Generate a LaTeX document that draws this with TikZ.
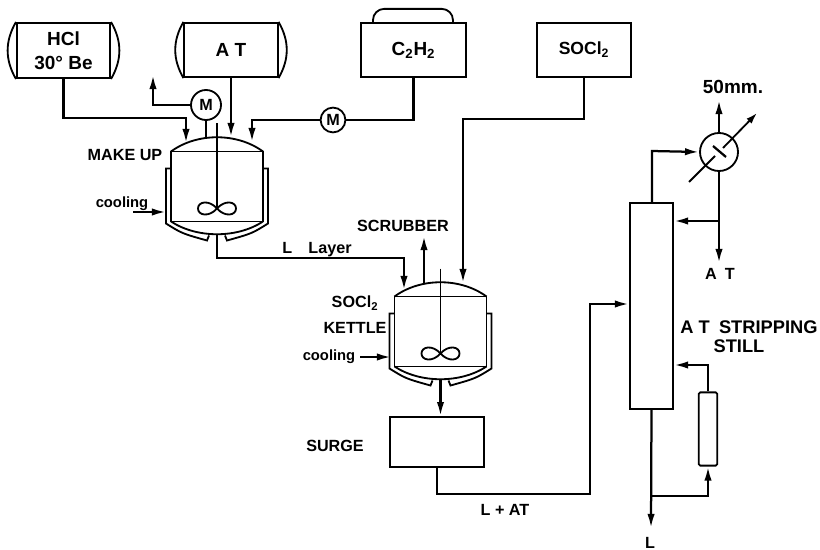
\documentclass[tikz,border=0pt]{standalone}
\usepackage{fontspec}
\setmainfont{Liberation Sans}
\usetikzlibrary{arrows.meta,positioning,calc}
\tikzset{
  pipe/.style={line width=1.6pt,-{Latex[length=10pt,width=5.2pt]}},
  plainpipe/.style={line width=1.6pt},
  unit/.style={draw,line width=1.3pt,inner sep=0pt,align=center},
  lab/.style={inner sep=0pt,align=center,font=\fontsize{11.5}{14}\selectfont\bfseries},
  biglab/.style={lab,font=\fontsize{13.5}{15}\selectfont\bfseries},
  cool/.style={lab,font=\fontsize{10.5}{14}\selectfont\bfseries},
  kettle/.pic={
    \node[draw,line width=1.3pt,minimum width=2.3cm,minimum height=1.75cm,inner sep=0pt] (-body) at (0,0) {};
    \coordinate (-out) at (0,48);
    \draw[line width=1.3pt] (-46,-35) .. controls (-20,-54) and (20,-54) .. (46,-35);
    \draw[line width=1.3pt] (-46,35) .. controls (-20,52) and (20,52) .. (46,35);
    \draw[line width=1.3pt] (-46,-18) -- (-51,-18) -- (-51,37) .. controls (-35,47) .. (-10,54) -- (-8,49);
    \draw[line width=1.3pt] (46,-18) -- (51,-18) -- (51,37) .. controls (35,47) .. (10,54) -- (8,49);
    \draw[line width=1.3pt] (0,-63) -- (0,22);
    \draw[line width=1.3pt] (0,22) .. controls (8,13) and (19,15) .. (19,22) .. controls (19,29) and (8,31) .. (0,22)
      .. controls (-8,13) and (-19,15) .. (-19,22) .. controls (-19,29) and (-8,31) .. (0,22);
  }
}
\begin{document}
\begin{tikzpicture}[x=.025cm,y=-.025cm]
\useasboundingbox (0,0) rectangle (820,550);
% storage tanks
\node[unit,biglab,minimum width=2.33cm,minimum height=1.38cm] (hcl) at (63.5,50.5) {HCl\\[2pt]30° Be};
\node[unit,biglab,minimum width=2.33cm,minimum height=1.36cm] (at) at (231,50) {A T};
\node[unit,biglab,minimum width=2.63cm,minimum height=1.36cm] (acet) at (413.5,50) {C\textsubscript{2}H\textsubscript{2}};
\node[unit,lab,font=\fontsize{12.5}{15}\selectfont\bfseries,minimum width=2.35cm,minimum height=1.36cm] (socl) at (584,50) {SOCl\textsubscript{2}};
\foreach \n in {hcl,at} {
  \draw[line width=1.3pt] (\n.north west) to[out=240,in=120] (\n.south west);
  \draw[line width=1.3pt] (\n.north east) to[out=-60,in=60] (\n.south east);
}
\draw[line width=1.3pt,rounded corners=.28cm] ([xshift=.325cm]acet.north west) -- ++(0,-13) -- ++(80,0) -- ++(0,13);
% kettles
\pic (mk) at (217,186.5) {kettle};
\pic (ke) at (440.5,331.5) {kettle};
\node[unit,lab,circle,minimum size=.75cm] (mA) at (206,105) {M};
\node[unit,lab,circle,minimum size=.62cm] (mB) at (333,120) {M};
\node[unit,minimum width=2.35cm,minimum height=1.25cm] (surge) at (437,442) {};
% still
\node[unit,minimum width=1.08cm,minimum height=5.15cm] (col) at (651.5,306) {};
\node[unit,circle,minimum size=.95cm] (cond) at (719,152) {};
\node[unit,rounded corners=1pt,minimum width=.46cm,minimum height=1.83cm] (reb) at (708,429) {};
% bends and free ends
\coordinate (vent) at (153,75);
\coordinate (mkA) at (186,143);
\coordinate (mkB) at (206,137);
\coordinate (mkC) at (231,137);
\coordinate (mkD) at (252,142);
\coordinate (bendA) at (186,118);
\coordinate (bendC) at (404,258);
\coordinate (keA) at (404,290);
\coordinate (keB) at (424,283);
\coordinate (keC) at (463,283);
\coordinate (bendD) at (463,119);
\coordinate (scrub) at (424,236);
\coordinate (coolA) at (133,212);
\coordinate (coolB) at (166,212);
\coordinate (coolC) at (360,357);
\coordinate (coolD) at (391,357);
\coordinate (bendE) at (590,494);
\coordinate (bendF) at (590,304);
\coordinate (bendG) at (652,151);
\coordinate (vac) at (719,100);
\coordinate (atout) at (719,263);
\coordinate (tee) at (719,221);
\coordinate (bendH) at (707,365);
\coordinate (teeL) at (651,496);
\coordinate (lout) at (651,528);
\coordinate (cwA) at (689,182);
\coordinate (cwB) at (715,156);
\coordinate (cwC) at (723,148);
\coordinate (cwD) at (757,113);
% lines
\draw[pipe] (hcl.south) |- (bendA) -- (mkA);
\draw[pipe] (at.south) -- (mkC);
\draw[plainpipe] (mA.south) -- (mkB);
\draw[pipe] (mA.west) -| (vent);
\draw[plainpipe] (acet.south) |- (mB.east);
\draw[pipe] (mB.west) -| (mkD);
\draw[pipe] (coolA) -- (coolB);
\draw[pipe] (mk-out) |- (bendC) -- (keA);
\draw[pipe] (keB) -- (scrub);
\draw[pipe] (socl.south) |- (bendD) -- (keC);
\draw[pipe] (coolC) -- (coolD);
\draw[pipe] (ke-out) -- (ke-out |- surge.north);
\draw[pipe] (surge.south) |- (bendE) -- (bendF) -- (col.west |- bendF);
\draw[pipe] (bendG |- col.north) -- (bendG) -- (cond.west);
\draw[pipe] (cond.north) -- (vac);
\draw[pipe] (cond.south) -- (atout);
\draw[pipe] (tee) -- (col.east |- tee);
\draw[pipe] (reb.north) |- (col.east |- bendH);
\draw[pipe] (col.south) -- (lout);
\draw[pipe] (teeL) -| (reb.south);
\draw[line width=1.3pt] (cwA) -- (cwB);
\draw[line width=1.6pt] (713,146) -- (726,157);
\draw[line width=1.3pt,-{Latex[length=8pt,width=5pt]}] (cwC) -- (cwD);
% labels
\node[lab] (lmake) at (125,155) {MAKE UP};
\node[cool] (lcoolA) at (122,204) {cooling};
\node[lab] (llayer) at (317,250) {L\quad Layer};
\node[lab] (lscrub) at (403,226) {SCRUBBER};
\node[lab] (lsoc) at (355,303) {SOCl\textsubscript{2}};
\node[lab] (lkettle) at (355,328) {KETTLE};
\node[cool] (lcoolB) at (329,357) {cooling};
\node[lab] (lsurge) at (335,446) {SURGE};
\node[lab] (llat) at (505,510) {L + AT};
\node[lab] (latout) at (720,274) {A\enspace T};
\node[lab] (ll) at (650,543) {L};
\node[biglab] (lvac) at (733,87) {50mm.};
\node[lab,font=\fontsize{13}{15}\selectfont\bfseries] (lstillA) at (749,327) {A T\enspace STRIPPING};
\node[lab,font=\fontsize{13}{15}\selectfont\bfseries] (lstillB) at (739,346) {STILL};
\end{tikzpicture}
\end{document}
